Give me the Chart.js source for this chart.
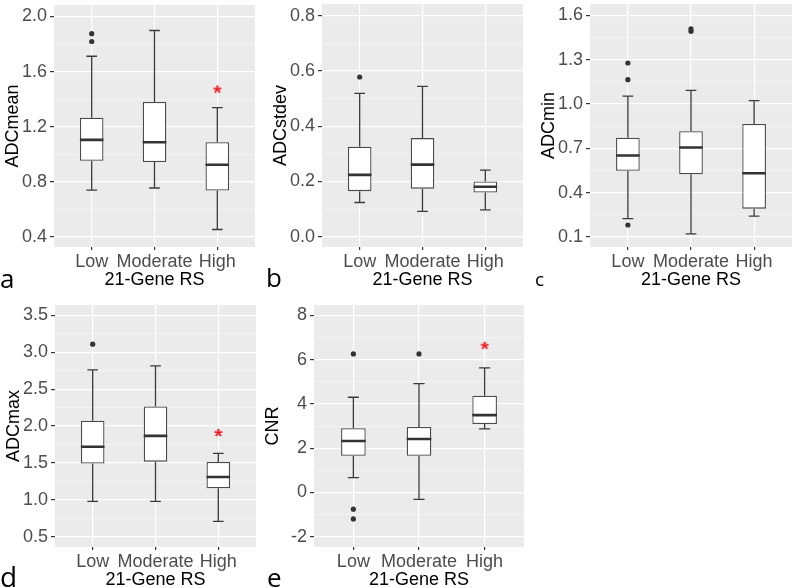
<!DOCTYPE html>
<html>
<head>
<meta charset="utf-8">
<script src="https://cdn.jsdelivr.net/npm/chart.js@4.4.1/dist/chart.umd.min.js"></script>
<style>
  body { margin: 0; background: #fff; }
  #fig { position: relative; width: 800px; height: 588px; overflow: hidden; }
  #fig canvas { position: absolute; }
  .tag { position: absolute; font-family: "Open Sans", sans-serif; color: #000; line-height: 1; }
</style>
</head>
<body>
<div id="fig">
  <canvas id="chartA" width="260" height="291" style="left:0;top:0"></canvas>
  <canvas id="chartB" width="259" height="291" style="left:268px;top:0"></canvas>
  <canvas id="chartC" width="260" height="291" style="left:536px;top:0"></canvas>
  <canvas id="chartD" width="260" height="291" style="left:1px;top:300px"></canvas>
  <canvas id="chartE" width="269" height="291" style="left:260px;top:300px"></canvas>
  <span class="tag" style="left:0;top:265px;font-size:26px">a</span>
  <span class="tag" style="left:266px;top:264px;font-size:26px">b</span>
  <span class="tag" style="left:535px;top:270px;font-size:19px">c</span>
  <span class="tag" style="left:0;top:562px;font-size:28px">d</span>
  <span class="tag" style="left:267px;top:564px;font-size:26px">e</span>
</div>
<script>
const categories = ['Low', 'Moderate', 'High'];

// [lower whisker, Q1, median, Q3, upper whisker] for Low / Moderate / High
const adcMeanBox = [[0.740, 0.952, 1.104, 1.265, 1.711], [0.755, 0.943, 1.087, 1.379, 1.898], [0.454, 0.737, 0.924, 1.087, 1.339]];
const adcMeanOut = [[1.818, 1.875], [], []];
const adcMeanStar = [null, null, 1.47];
const adcMeanTicks = [0.4, 0.8, 1.2, 1.6, 2.0];

const adcStdevBox = [[0.124, 0.165, 0.224, 0.326, 0.519], [0.092, 0.174, 0.261, 0.357, 0.544], [0.097, 0.160, 0.181, 0.200, 0.241]];
const adcStdevOut = [[0.578], [], []];
const adcStdevStar = [null, null, null];
const adcStdevTicks = [0.0, 0.2, 0.4, 0.6, 0.8];

const adcMinBox = [[0.223, 0.547, 0.651, 0.771, 1.054], [0.120, 0.524, 0.705, 0.816, 1.093], [0.240, 0.291, 0.531, 0.865, 1.023]];
const adcMinOut = [[0.180, 1.165, 1.278], [1.493, 1.509], []];
const adcMinStar = [null, null, null];
const adcMinTicks = [0.1, 0.4, 0.7, 1.0, 1.3, 1.6];

const adcMaxBox = [[0.977, 1.491, 1.720, 2.071, 2.762], [0.977, 1.517, 1.867, 2.265, 2.815], [0.707, 1.155, 1.309, 1.513, 1.628]];
const adcMaxOut = [[3.111], [], []];
const adcMaxStar = [null, null, 1.906];
const adcMaxTicks = [0.5, 1.0, 1.5, 2.0, 2.5, 3.0, 3.5];

const cnrBox = [[0.67, 1.65, 2.32, 2.90, 4.30], [-0.32, 1.65, 2.41, 2.96, 4.92], [2.87, 3.09, 3.49, 4.37, 5.63]];
const cnrOut = [[-1.20, -0.76, 6.26], [6.26], []];
const cnrStar = [null, null, 6.63];
const cnrTicks = [-2, 0, 2, 4, 6, 8];

const FONT = '"Liberation Sans", Arial, sans-serif';
const BOX_HALF = 0.1875;
const CAP_HALF = 0.085;

// red "*" used as a point image for the significance marks
function asterisk() {
  const c = document.createElement('canvas');
  c.width = 16; c.height = 16;
  const g = c.getContext('2d');
  g.font = 'bold 21px ' + FONT;
  g.fillStyle = '#ec1c24';
  g.textAlign = 'center';
  const m = g.measureText('*');
  g.fillText('*', 8, 8 + (m.actualBoundingBoxAscent - m.actualBoundingBoxDescent) / 2);
  return c;
}
const starImg = asterisk();

const panelBg = {
  id: 'panelBg',
  beforeDraw(chart) {
    const { ctx, chartArea: a } = chart;
    ctx.save();
    ctx.fillStyle = '#ebebeb';
    ctx.fillRect(a.left, a.top, a.right - a.left, a.bottom - a.top);
    ctx.restore();
  }
};

function drawPanel(id, title, box, out, star, ticks, digits, yMin, yMax) {
  const boxes = box.map((s, i) => ({ x: i + 1, y: [s[1], s[3]] }));
  const medians = [];
  const whiskers = [];
  box.forEach((s, i) => {
    const x = i + 1;
    medians.push({ x: x - BOX_HALF, y: s[2] }, { x: x + BOX_HALF, y: s[2] }, { x, y: null });
    whiskers.push(
      { x, y: s[3] }, { x, y: s[4] }, { x, y: null },
      { x: x - CAP_HALF, y: s[4] }, { x: x + CAP_HALF, y: s[4] }, { x, y: null },
      { x, y: s[1] }, { x, y: s[0] }, { x, y: null },
      { x: x - CAP_HALF, y: s[0] }, { x: x + CAP_HALF, y: s[0] }, { x, y: null }
    );
  });
  const outliers = [];
  out.forEach((vals, i) => vals.forEach(v => outliers.push({ x: i + 1, y: v })));
  const stars = [];
  star.forEach((v, i) => { if (v !== null) stars.push({ x: i + 1, y: v }); });

  // major ticks plus minor midpoints for the lighter grid lines
  const yTicks = [];
  ticks.forEach((v, i) => {
    yTicks.push({ value: v, major: true });
    if (i < ticks.length - 1) yTicks.push({ value: (v + ticks[i + 1]) / 2, major: false });
  });

  new Chart(document.getElementById(id), {
    type: 'bar',
    data: {
      datasets: [
        { type: 'scatter', data: stars, pointStyle: starImg, order: 0 },
        { type: 'scatter', data: outliers, pointRadius: 2.6, backgroundColor: '#333', borderWidth: 0, order: 0 },
        { type: 'line', data: medians, borderColor: '#333', borderWidth: 2.6, pointRadius: 0, order: 1 },
        { type: 'bar', data: boxes, backgroundColor: '#fff', borderColor: '#4a4a4a', borderWidth: 1.3,
          borderSkipped: false, categoryPercentage: 1, barPercentage: BOX_HALF * 2, order: 2 },
        { type: 'line', data: whiskers, borderColor: '#3a3a3a', borderWidth: 1.3, pointRadius: 0, order: 3 }
      ]
    },
    options: {
      responsive: false,
      animation: false,
      events: [],
      layout: { padding: 0 },
      plugins: { legend: { display: false }, tooltip: { enabled: false } },
      scales: {
        x: {
          type: 'linear', min: 0.4, max: 3.6, offset: false,
          afterBuildTicks: s => { s.ticks = categories.map((c, i) => ({ value: i + 1 })); },
          afterFit: s => { s.height = 44; s.paddingLeft = 0; s.paddingRight = 0; },
          ticks: {
            callback: v => categories[v - 1],
            font: { family: FONT, size: 18 }, color: '#4d4d4d',
            padding: 1, maxRotation: 0, autoSkip: false
          },
          grid: { offset: false, color: '#fff', lineWidth: 1.2, tickLength: 3, tickColor: '#333' },
          border: { display: false },
          title: { display: true, text: '21-Gene RS', color: '#000', font: { family: FONT, size: 18 }, padding: 0 }
        },
        y: {
          min: yMin, max: yMax, beginAtZero: false,
          afterBuildTicks: s => { s.ticks = yTicks.map(t => ({ ...t })); },
          afterFit: s => { s.width = 54; s.paddingTop = 0; s.paddingBottom = 0; },
          ticks: {
            callback: (v, i, t) => t[i].major ? v.toFixed(digits) : '',
            font: { family: FONT, size: 18 }, color: '#4d4d4d', padding: 3, autoSkip: false
          },
          grid: {
            color: c => c.tick && c.tick.major ? '#fff' : 'rgba(255,255,255,0.65)',
            lineWidth: c => c.tick && c.tick.major ? 1.2 : 0.6,
            tickLength: 4,
            tickColor: c => c.tick && c.tick.major ? '#333' : 'rgba(0,0,0,0)'
          },
          border: { display: false },
          title: { display: true, text: title, color: '#000', font: { family: FONT, size: 18 }, padding: { top: 2, bottom: 0 } }
        }
      }
    },
    plugins: [panelBg]
  });
}

drawPanel('chartA', 'ADCmean', adcMeanBox, adcMeanOut, adcMeanStar, adcMeanTicks, 1, 0.327, 2.083);
drawPanel('chartB', 'ADCstdev', adcStdevBox, adcStdevOut, adcStdevStar, adcStdevTicks, 1, -0.037, 0.842);
drawPanel('chartC', 'ADCmin', adcMinBox, adcMinOut, adcMinStar, adcMinTicks, 1, 0.031, 1.678);
drawPanel('chartD', 'ADCmax', adcMaxBox, adcMaxOut, adcMaxStar, adcMaxTicks, 1, 0.359, 3.642);
drawPanel('chartE', 'CNR', cnrBox, cnrOut, cnrStar, cnrTicks, 0, -2.47, 8.47);
</script>
</body>
</html>
